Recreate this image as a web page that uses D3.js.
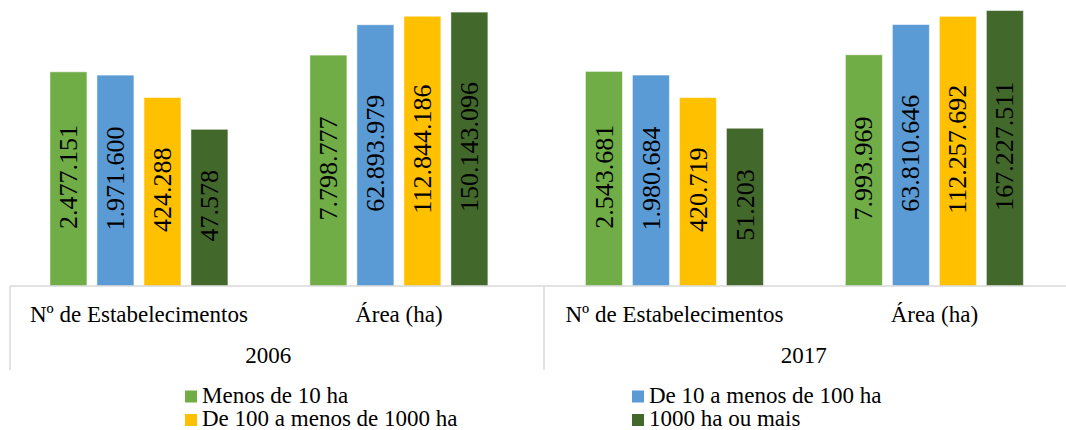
<!DOCTYPE html>
<html>
<head>
<meta charset="utf-8">
<script src="https://cdn.jsdelivr.net/npm/d3@7"></script>
<style>
  body { margin: 0; background: #fff; }
  svg { display: block; }
</style>
</head>
<body>
<script>
let years = ["2006", "2017"];
let categories = ["Nº de Estabelecimentos", "Área (ha)"];
let series = ["Menos de 10 ha", "De 10 a menos de 100 ha", "De 100 a menos de 1000 ha", "1000 ha ou mais"];
let colors = ["#70ad47", "#5b9bd5", "#ffc000", "#43682b"];
let estab2006 = [2477151, 1971600, 424288, 47578];
let area2006 = [7798777, 62893979, 112844186, 150143096];
let estab2017 = [2543681, 1980684, 420719, 51203];
let area2017 = [7993969, 63810646, 112257692, 167227511];

let x = 1066;
let y = 430;
let svg = d3.select("body").append("svg").attr("width", x).attr("height", y)
  .attr("font-family", "'Liberation Serif'");

let rows = [];
let tables = { "2006": [estab2006, area2006], "2017": [estab2017, area2017] };
years.forEach(yr =>
{
  categories.forEach((cat, ci) =>
  {
    series.forEach((s, si) =>
    {
      rows.push({ year: yr, cat: cat, series: s, value: tables[yr][ci][si] });
    });
  });
});

let baseY = 286;
let pxPerDecade = 33.5;
let scaleY = d3.scaleLog().domain([1, 1e9]).range([baseY, baseY - pxPerDecade * 9]);
let scaleYear = d3.scaleBand().domain(years).range([3.5, 1074.5]);
let scaleBox = d3.scaleBand().domain(years).range([10, 1078]);
let scaleCat = d3.scaleBand().domain(categories).range([0, scaleYear.bandwidth()])
  .paddingOuter(0.03).align(0.35);
let scaleSer = d3.scaleBand().domain(series).range([-89, 89]).paddingInner(10 / 47);
let color = d3.scaleOrdinal().domain(series).range(colors);
let fmt = d3.formatLocale({ decimal: ",", thousands: ".", grouping: [3], currency: ["", ""] }).format(",d");

let catCenter = (d) => scaleYear(d.year) + scaleCat(d.cat) + scaleCat.bandwidth() / 2;

// bars
svg.append("g").selectAll("rect").data(rows).enter().append("rect")
  .attr("x", (d) => catCenter(d) + scaleSer(d.series))
  .attr("width", scaleSer.bandwidth())
  .attr("y", (d) => scaleY(d.value))
  .attr("height", (d) => baseY - scaleY(d.value))
  .attr("fill", (d) => color(d.series))
  .attr("stroke", "#ffffff")
  .attr("stroke-opacity", 0.5)
  .attr("stroke-width", 1);

// value labels, rotated inside bars
svg.append("g").selectAll("text").data(rows).enter().append("text")
  .attr("transform", (d) =>
  {
    let cx = catCenter(d) + scaleSer(d.series) + scaleSer.bandwidth() / 2;
    let cy = (scaleY(d.value) + baseY) / 2 - 2;
    return "translate(" + cx + "," + cy + ") rotate(-90)";
  })
  .attr("text-anchor", "middle")
  .attr("dy", "0.33em")
  .attr("font-size", "26px")
  .attr("fill", "#000")
  .text((d) => fmt(d.value));

// category axis box
let axis = svg.append("g").attr("stroke", "#d9d9d9").attr("stroke-width", 1.5);
axis.append("line")
  .attr("x1", scaleBox.range()[0]).attr("x2", x)
  .attr("y1", baseY).attr("y2", baseY);
axis.selectAll(".sep").data(years).enter().append("line")
  .attr("x1", (d) => scaleBox(d)).attr("x2", (d) => scaleBox(d))
  .attr("y1", baseY).attr("y2", 370);

let catLabels = [];
years.forEach(yr => categories.forEach(cat => catLabels.push({ year: yr, cat: cat })));
svg.append("g").selectAll("text").data(catLabels).enter().append("text")
  .attr("x", (d) => catCenter(d))
  .attr("y", 322)
  .attr("text-anchor", "middle")
  .attr("font-size", "23px")
  .text((d) => d.cat);

svg.append("g").selectAll("text").data(years).enter().append("text")
  .attr("x", (d) => scaleYear(d) + scaleYear.bandwidth() / 2 - 3)
  .attr("y", 363)
  .attr("text-anchor", "middle")
  .attr("font-size", "23px")
  .text((d) => d);

// legend
let legend = svg.append("g").selectAll("g").data(series).enter().append("g")
  .attr("transform", (d, i) => "translate(" + (i % 2 == 0 ? 185 : 632) + "," + (402.5 + Math.floor(i / 2) * 23.5) + ")");
legend.append("rect")
  .attr("x", 0).attr("y", -12)
  .attr("width", 12).attr("height", 12)
  .attr("fill", color);
legend.append("text")
  .attr("x", 17).attr("y", 0)
  .attr("font-size", "23px")
  .text((d) => d);
</script>
</body>
</html>
